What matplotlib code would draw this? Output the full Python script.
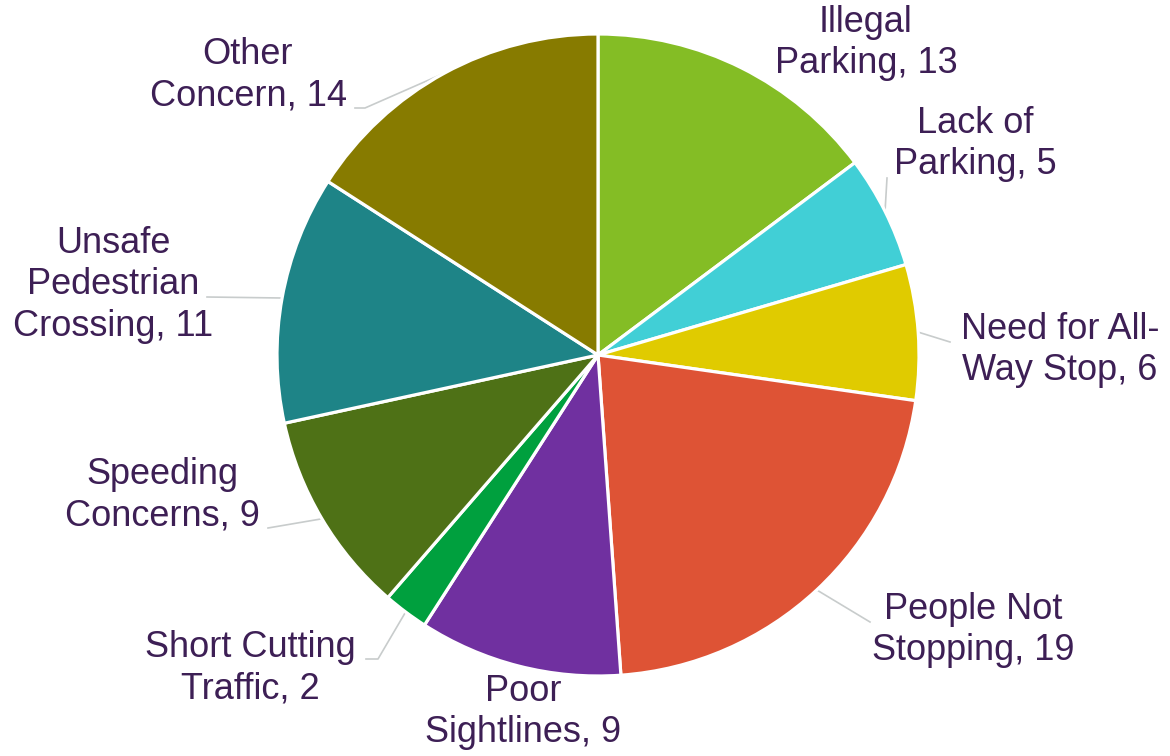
import matplotlib
matplotlib.use("Agg")
import matplotlib.pyplot as plt
import numpy as np

categories = ["Illegal\nParking", "Lack of\nParking", "Need for All-\nWay Stop",
              "People Not\nStopping", "Poor\nSightlines", "Short Cutting\nTraffic",
              "Speeding\nConcerns", "Unsafe\nPedestrian\nCrossing", "Other\nConcern"]
values = [13, 5, 6, 19, 9, 2, 9, 11, 14]
colors = ["#84BD25", "#41CFD6", "#E0CB00", "#DE5335", "#7030A0",
          "#00A03E", "#4E7116", "#1E8487", "#877B00"]

# label text centres (pixel coords, y from top)
label_pos = [(866, 43), (975, 144), (1060, 350), (973, 630), (523, 712),
             (250, 668), (162, 495), (113, 285), (248, 75)]

W, H = 1170, 756
fig = plt.figure(figsize=(W / 100, H / 100), dpi=100)
ax = fig.add_axes([0, 0, 1, 1])

cx, cy, r = 598, H - 355, 321
wedges, _ = ax.pie(values, colors=colors, startangle=90, counterclock=False,
                   center=(cx, cy), radius=r, frame=True,
                   wedgeprops=dict(edgecolor="white", linewidth=2.3))
ax.set_xlim(0, W)
ax.set_ylim(0, H)
ax.set_aspect("equal")
ax.axis("off")

text_color = "#3D1F55"
line_color = "#C8CCCC"
for w, cat, v, (tx, ty) in zip(wedges, categories, values, label_pos):
    ax.text(tx, H - ty, f"{cat}, {v}", ha="center", va="center",
            fontsize=26, color=text_color, family=["Liberation Sans", "DejaVu Sans"],
            linespacing=1.25)

# leader lines (edge point -> near label)
def leader(idx, pts):
    w = wedges[idx]
    theta = np.deg2rad((w.theta1 + w.theta2) / 2)
    ex, ey = cx + r * np.cos(theta), cy + r * np.sin(theta)
    xs = [ex] + [p[0] for p in pts]
    ys = [ey] + [H - p[1] for p in pts]
    ax.plot(xs, ys, color=line_color, lw=1.2, zorder=0.5)

leader(1, [(887, 178)])
leader(2, [(950, 342)])
leader(3, [(870, 622)])
leader(5, [(378, 659), (366, 659)])
leader(6, [(268, 528)])
leader(7, [(207, 297)])
leader(8, [(365, 108), (355, 108)])

fig.savefig("out.png", dpi=100)
